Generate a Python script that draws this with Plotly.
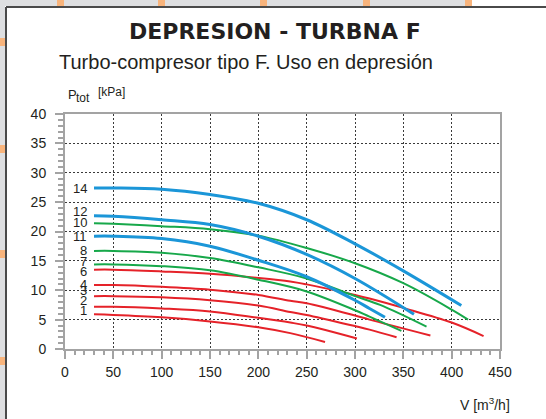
import plotly.graph_objects as go

# ---------------- data ----------------
curve_names = ["1", "2", "3", "4", "6", "7", "8", "10", "11", "12", "14"]

v1 = [30, 50, 100, 150, 200, 233, 269]
p1 = [5.9, 5.8, 5.4, 4.7, 3.7, 2.7, 1.2]

v2 = [30, 50, 100, 150, 200, 233, 250, 302]
p2 = [7.2, 7.2, 6.9, 6.4, 5.3, 4.5, 4.0, 1.8]

v3 = [30, 50, 100, 150, 200, 233, 250, 300, 315, 343]
p3 = [9.0, 9.0, 8.8, 8.3, 7.4, 6.3, 5.8, 3.9, 3.3, 2.0]

v4 = [30, 50, 100, 150, 200, 233, 250, 300, 315, 378]
p4 = [10.9, 10.9, 10.6, 10.1, 9.2, 8.2, 7.8, 5.7, 5.0, 2.3]

v6 = [30, 50, 100, 150, 200, 233, 250, 300, 315, 350, 400, 433]
p6 = [13.5, 13.5, 13.2, 12.8, 12.1, 11.5, 11.0, 9.2, 8.6, 7.0, 4.5, 2.2]

v7 = [30, 50, 100, 150, 200, 250, 300, 315, 348]
p7 = [14.4, 14.4, 14.1, 13.4, 11.8, 9.8, 6.6, 5.5, 3.1]

v8 = [30, 50, 100, 150, 200, 250, 300, 326, 374]
p8 = [16.7, 16.7, 16.4, 15.5, 13.9, 12.0, 9.0, 7.5, 3.8]

v10 = [30, 50, 100, 150, 200, 250, 300, 350, 400, 417]
p10 = [21.4, 21.3, 20.9, 20.4, 19.3, 17.2, 14.6, 11.2, 6.7, 5.0]

v11 = [30, 50, 100, 150, 200, 250, 300, 315, 331]
p11 = [19.2, 19.2, 18.8, 17.5, 15.1, 12.3, 8.3, 6.9, 5.4]

v12 = [30, 50, 100, 150, 200, 250, 300, 361]
p12 = [22.7, 22.6, 22.0, 21.2, 19.2, 16.1, 12.0, 5.9]

v14 = [30, 50, 100, 150, 200, 250, 300, 350, 410]
p14 = [27.4, 27.4, 27.2, 26.3, 24.8, 22.0, 17.9, 13.3, 7.4]

x_ticks = [0, 50, 100, 150, 200, 250, 300, 350, 400, 450]
y_ticks = [0, 5, 10, 15, 20, 25, 30, 35, 40]

series_v = [v1, v2, v3, v4, v6, v7, v8, v10, v11, v12, v14]
series_p = [p1, p2, p3, p4, p6, p7, p8, p10, p11, p12, p14]

# ---------------- style ----------------
RED, GREEN, BLUE = "#e52229", "#17a84a", "#1b96d8"
series_color = [RED, RED, RED, RED, RED, GREEN, GREEN, GREEN, BLUE, BLUE, BLUE]
series_width = [2, 2, 2, 2, 2, 2, 2, 2, 3, 3, 3]
label_yshift = [4, 6, 6, 0, -2, 3, 0, 1, 0, 4, 0]

TXT = "#231f20"
FONT = "Liberation Sans, Arial, sans-serif"
AXC = "#a3a3a3"

W, H = 546, 419
L, R, T, B = 65, 46, 114, 70


def xp(px):
    return (px - L) / (W - L - R)


def yp(py):
    return (H - B - py) / (H - T - B)


fig = go.Figure()

for name, v, p, c, w in zip(curve_names, series_v, series_p, series_color, series_width):
    fig.add_trace(go.Scatter(
        x=v, y=p, mode="lines", name=name,
        line=dict(color=c, width=w, shape="spline", smoothing=1.0),
        hoverinfo="skip", showlegend=False,
    ))

annotations = []
for name, v, p, dy in zip(curve_names, series_v, series_p, label_yshift):
    annotations.append(dict(
        x=v[0], y=p[0], xref="x", yref="y", text=name, showarrow=False,
        xanchor="right", yanchor="middle", xshift=-5, yshift=dy,
        font=dict(family=FONT, size=13, color=TXT),
    ))

# titles
annotations += [
    dict(x=xp(275), y=yp(32), xref="paper", yref="paper",
         text="<b>DEPRESION - TURBNA F</b>", showarrow=False,
         xanchor="center", yanchor="middle",
         font=dict(family="DejaVu Sans, Liberation Sans, sans-serif", size=22, color=TXT)),
    dict(x=xp(57), y=yp(62), xref="paper", yref="paper",
         text="Turbo-compresor tipo F. Uso en depresión", showarrow=False,
         xanchor="left", yanchor="middle",
         font=dict(family=FONT, size=20, color=TXT)),
    dict(x=xp(66), y=yp(94), xref="paper", yref="paper",
         text="P", showarrow=False, xanchor="left", yanchor="middle",
         font=dict(family=FONT, size=13, color=TXT)),
    dict(x=xp(74), y=yp(98), xref="paper", yref="paper",
         text="tot", showarrow=False, xanchor="left", yanchor="middle",
         font=dict(family=FONT, size=12, color=TXT)),
    dict(x=xp(96), y=yp(92), xref="paper", yref="paper",
         text="[kPa]", showarrow=False, xanchor="left", yanchor="middle",
         font=dict(family=FONT, size=12, color=TXT)),
    dict(x=xp(512), y=yp(404), xref="paper", yref="paper",
         text="V [m<sup>3</sup>/h]", showarrow=False,
         xanchor="right", yanchor="middle",
         font=dict(family=FONT, size=14, color=TXT)),
]

# page decoration (gray bands, orange marks, dark frame)
shapes = [
    dict(type="rect", xref="paper", yref="paper", x0=xp(0), x1=xp(5), y0=yp(H), y1=yp(0),
         fillcolor="#dedfe1", line=dict(width=0), layer="below"),
    dict(type="rect", xref="paper", yref="paper", x0=xp(0), x1=xp(472), y0=yp(6), y1=yp(0),
         fillcolor="#dedfe1", line=dict(width=0), layer="below"),
]
for mx in [57, 158, 260, 363, 465]:
    shapes.append(dict(type="rect", xref="paper", yref="paper", x0=xp(mx), x1=xp(mx + 7),
                       y0=yp(6), y1=yp(0), fillcolor="#f8b47c", line=dict(width=0), layer="below"))
for my in [38, 145, 250, 357]:
    shapes.append(dict(type="rect", xref="paper", yref="paper", x0=xp(0), x1=xp(5),
                       y0=yp(my + 8), y1=yp(my), fillcolor="#f8b47c", line=dict(width=0), layer="below"))
shapes += [
    dict(type="line", xref="paper", yref="paper", x0=xp(6), x1=xp(6), y0=yp(H), y1=yp(7),
         line=dict(color="#4a4a4a", width=2)),
    dict(type="line", xref="paper", yref="paper", x0=xp(6), x1=xp(W), y0=yp(7), y1=yp(7),
         line=dict(color="#4a4a4a", width=2)),
]

axis_common = dict(
    showgrid=True, gridcolor="#3a3a3a", gridwidth=1, griddash="2px,2px",
    showline=True, linecolor=AXC, linewidth=2, mirror=True,
    ticks="outside", ticklen=8, tickwidth=1.5, tickcolor=AXC,
    zeroline=False, tickfont=dict(family=FONT, size=14, color=TXT),
)

fig.update_layout(
    width=W, height=H,
    margin=dict(l=L, r=R, t=T, b=B),
    paper_bgcolor="white", plot_bgcolor="white",
    xaxis=dict(range=[0, 450], tickvals=x_ticks, ticklabelstandoff=1,
               minor=dict(dtick=10, ticks="outside", ticklen=4, tickcolor=AXC, tickwidth=1.5, showgrid=False),
               **axis_common),
    yaxis=dict(range=[0, 40], tickvals=y_ticks, ticklabelstandoff=6,
               minor=dict(dtick=1, ticks="outside", ticklen=5, tickcolor=AXC, tickwidth=1.5, showgrid=False),
               **axis_common),
    annotations=annotations,
    shapes=shapes,
)

fig.write_html(
    "out.html",
    config={"displayModeBar": False},
    post_script="document.body.style.margin='0';document.body.style.overflow='hidden';",
)
